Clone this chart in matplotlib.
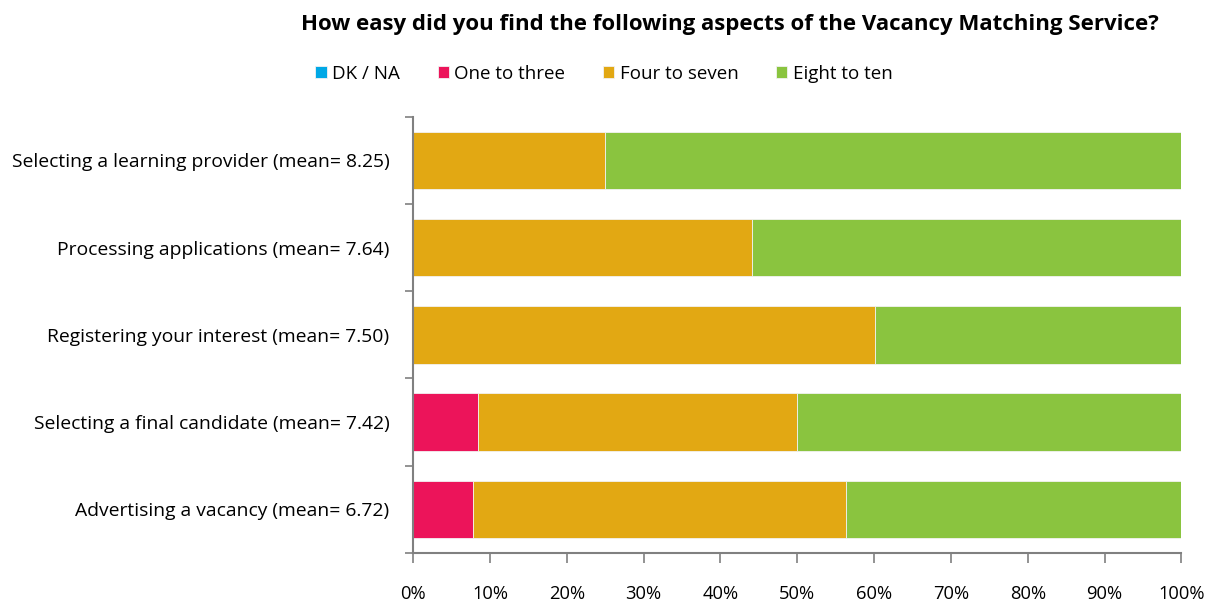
import numpy as np
import matplotlib.pyplot as plt

plt.rcParams['font.family'] = ['Open Sans', 'DejaVu Sans']

categories = [
    "Selecting a learning provider (mean= 8.25)",
    "Processing applications (mean= 7.64)",
    "Registering your interest (mean= 7.50)",
    "Selecting a final candidate (mean= 7.42)",
    "Advertising a vacancy (mean= 6.72)",
]
series_names = ["DK / NA", "One to three", "Four to seven", "Eight to ten"]
dk_na = [0.0, 0.0, 0.0, 0.0, 0.0]
one_to_three = [0.0, 0.0, 0.0, 8.5, 7.8]
four_to_seven = [25.0, 44.1, 60.1, 41.5, 48.5]
eight_to_ten = [75.0, 55.9, 39.9, 50.0, 43.7]
colors = ["#00A8E6", "#EC145A", "#E2A813", "#8AC43F"]

fig = plt.figure(figsize=(12.08, 6.05), dpi=100)
ax = fig.add_axes([0.342, 0.086, 0.636, 0.721])

y = np.arange(len(categories))
left = np.zeros(len(categories))
for name, vals, c in zip(series_names, [dk_na, one_to_three, four_to_seven, eight_to_ten], colors):
    vals = np.array(vals)
    ax.barh(y, vals, left=left, height=0.66, color=c, edgecolor="#f2f2f2",
            linewidth=0.6, label=name)
    left += vals

ax.set_ylim(len(categories) - 0.5, -0.5)
ax.set_xlim(0, 100)
ax.set_yticks(y)
ax.set_yticklabels(categories, fontsize=13.9)
ax.set_yticks(np.arange(-0.5, len(categories)), minor=True)
ax.tick_params(axis="y", which="major", length=0, pad=17)
ax.tick_params(axis="y", which="minor", length=6, color="#808080", width=1.2)
ax.set_xticks(np.arange(0, 101, 10))
ax.set_xticklabels([f"{v}%" for v in range(0, 101, 10)], fontsize=13.2)
ax.tick_params(axis="x", length=7, color="#808080", width=1.2, pad=16)

for s in ["top", "right"]:
    ax.spines[s].set_visible(False)
for s in ["left", "bottom"]:
    ax.spines[s].set_color("#808080")
    ax.spines[s].set_linewidth(1.5)

fig.text(0.604, 0.96, "How easy did you find the following aspects of the Vacancy Matching Service?",
         ha="center", va="center", fontsize=16, fontweight="bold")

fig.legend(loc="center", bbox_to_anchor=(0.50, 0.878), ncol=4, frameon=False,
           fontsize=13.5, handlelength=0.6, handleheight=0.6, handletextpad=0.3,
           columnspacing=2.0)

fig.savefig("out.png", dpi=100)
